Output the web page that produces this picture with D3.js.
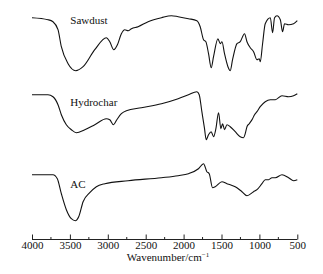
<!DOCTYPE html>
<html>
<head>
<meta charset="utf-8">
<script src="https://cdn.jsdelivr.net/npm/d3@7"></script>
<style>
	body { margin: 0; background: #fff; }
	text { font-family: "Liberation Serif", "Times New Roman", serif; fill: #111; }
</style>
</head>
<body>
<div id="chart"></div>
<script>
// wavenumber (cm-1) and stacked transmittance (a.u.)
var sawdust_w = [4000, 3789, 3723, 3657, 3613, 3524, 3423, 3326, 3172, 3019, 2974, 2921, 2873, 2821, 2776, 2732, 2688, 2600, 2468, 2292, 2160, 2072, 1936, 1825, 1781, 1737, 1706, 1671, 1636, 1605, 1547, 1517, 1494, 1460, 1415, 1385, 1354, 1296, 1253, 1196, 1164, 1121, 1077, 1032, 1002, 989, 958, 923, 856, 826, 800, 768, 724, 694, 668, 615, 549, 500];
var sawdust_t = [224, 222, 220, 212, 195, 178, 171, 175, 192, 204, 200, 192, 197, 208, 212, 211, 213, 215, 220, 224, 226, 225, 223, 221, 215, 202, 200, 188, 174, 185, 203, 198, 200, 188, 175, 171, 182, 198, 200, 208, 200, 194, 190, 182, 183, 180, 198, 218, 224, 209, 224, 226, 222, 210, 218, 217, 218, 221];

var hydrochar_w = [4000, 3789, 3723, 3657, 3613, 3547, 3481, 3415, 3304, 3172, 3019, 2974, 2925, 2881, 2821, 2755, 2557, 2292, 2072, 1936, 1825, 1794, 1759, 1724, 1702, 1671, 1636, 1605, 1574, 1539, 1508, 1486, 1460, 1428, 1385, 1319, 1253, 1209, 1187, 1164, 1134, 1090, 1064, 1032, 989, 923, 856, 790, 702, 615, 549, 500];
var hydrochar_t = [147, 147, 145, 137, 127, 117, 112, 109, 112, 117, 123, 122, 117, 122, 128, 131, 134, 138, 143, 147, 150, 147, 130, 113, 102, 107, 110, 105, 113, 129, 113, 118, 112, 117, 115, 110, 105, 104, 108, 115, 118, 123, 127, 130, 135, 140, 142, 142, 146, 145, 146, 148];

var ac_w = [4000, 3723, 3666, 3613, 3547, 3481, 3428, 3384, 3326, 3238, 3151, 3040, 2732, 2292, 2072, 1936, 1804, 1737, 1693, 1662, 1618, 1583, 1494, 1428, 1385, 1319, 1230, 1164, 1077, 1032, 966, 923, 878, 834, 790, 702, 615, 549, 500];
var ac_t = [67, 67, 63, 48, 32, 23, 21, 25, 40, 49, 55, 58, 61, 64, 66, 68, 73, 78, 70, 68, 54, 55, 60, 58, 57, 55, 50, 46, 50, 52, 58, 62, 62, 64, 64, 67, 64, 61, 62];

var series_names = ['Sawdust', 'Hydrochar', 'AC'];
var label_pos = [[3495, 218], [3495, 136], [3495, 54]];
var x_ticks = [4000, 3500, 3000, 2500, 2000, 1500, 1000, 500];
var x_minor = [3750, 3250, 2750, 2250, 1750, 1250, 750];

var width = 323;
var height = 274;

var svg = d3.select('#chart')
			.append('svg')
			.attr('width', width)
			.attr('height', height);

var x_scale = d3.scaleLinear()
				.domain([4000, 500])
				.range([32, 297.3]);

var y_scale = d3.scaleLinear()
				.domain([0, 230])
				.range([241.7, 11.7]);

var axis_y = 239.5;

// x axis, ticks pointing up
var x_axis = d3.axisTop(x_scale)
				.tickValues(x_ticks)
				.tickSize(5)
				.tickFormat(d3.format('d'));

var gx = svg.append('g')
	.attr('class', 'x-axis')
	.attr('transform', 'translate(0,' + axis_y + ')')
	.call(x_axis);

gx.select('.domain').attr('d', 'M' + x_scale(4000) + ',0H' + x_scale(500)).attr('stroke', '#222');
gx.selectAll('.tick line').attr('stroke', '#222');
gx.selectAll('.tick text')
	.attr('y', 9.5)
	.attr('dy', 0)
	.style('font-size', '11px')
	.style('font-family', '"Liberation Serif", serif')
	.attr('fill', '#111');

svg.append('g')
	.selectAll('line')
	.data(x_minor)
	.enter()
	.append('line')
	.attr('x1', function(d){ return x_scale(d); })
	.attr('x2', function(d){ return x_scale(d); })
	.attr('y1', axis_y)
	.attr('y2', axis_y - 2.5)
	.attr('stroke', '#222');

var title = svg.append('text')
	.attr('x', 168)
	.attr('y', 261)
	.attr('text-anchor', 'middle')
	.style('font-size', '11px')
	.text('Wavenumber/cm');
title.append('tspan')
	.attr('dy', -4)
	.style('font-size', '7px')
	.text('\u22121');

var line = d3.line()
	.x(function(d){ return x_scale(d[0]); })
	.y(function(d){ return y_scale(d[1]); })
	.curve(d3.curveMonotoneX);

var all_w = [sawdust_w, hydrochar_w, ac_w];
var all_t = [sawdust_t, hydrochar_t, ac_t];

all_w.forEach(function(w, i){
	var pts = d3.zip(w, all_t[i]);
	svg.append('path')
		.datum(pts)
		.attr('d', line)
		.attr('fill', 'none')
		.attr('stroke', '#111')
		.attr('stroke-width', 1.1);
});

svg.append('g')
	.selectAll('text')
	.data(series_names)
	.enter()
	.append('text')
	.text(function(d){ return d; })
	.attr('x', function(d, i){ return x_scale(label_pos[i][0]); })
	.attr('y', function(d, i){ return y_scale(label_pos[i][1]); })
	.style('font-size', '11px');
</script>
</body>
</html>
